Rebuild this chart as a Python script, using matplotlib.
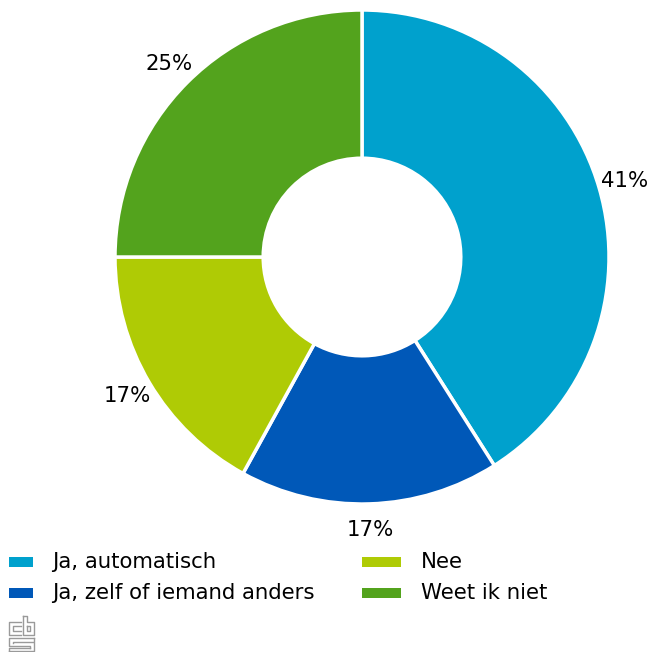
import matplotlib
matplotlib.use("Agg")
import matplotlib.pyplot as plt
from matplotlib.patches import Rectangle
from matplotlib.lines import Line2D

categories = ["Ja, automatisch", "Ja, zelf of iemand anders", "Nee", "Weet ik niet"]
values = [41, 17, 17, 25]
labels = ["41%", "17%", "17%", "25%"]
colors = ["#00A1CD", "#0058B8", "#AFCB05", "#53A31D"]

W, H = 650, 652
fig = plt.figure(figsize=(W / 100, H / 100), dpi=100)

def fx(x):
    return x / W

def fy(y):
    return 1 - y / H

# pie axes: center (362,257) px, radius 247 px
R = 247.0
lim = 1.2
side = 2 * lim * R
cx, cy = 362, 257
ax = fig.add_axes([fx(cx - side / 2), fy(cy + side / 2), side / W, side / H])
wedges, texts = ax.pie(values, labels=labels, colors=colors, startangle=90,
                       counterclock=False, labeldistance=1.105,
                       wedgeprops=dict(width=0.6, edgecolor="white", linewidth=2.5),
                       textprops=dict(fontsize=15.3, color="black"))
for t in texts:
    t.set_ha("center")
    t.set_va("center")
ax.set_xlim(-lim, lim)
ax.set_ylim(-lim, lim)
ax.set_aspect("equal")

# legend drawn manually
leg = [
    (9, 33, 562, 52),
    (9, 33, 593, 52),
    (362, 401, 562, 421),
    (362, 401, 593, 421),
]
for (x0, x1, yc, tx), cat, col in zip(leg, categories, colors):
    fig.add_artist(Rectangle((fx(x0), fy(yc + 5)), (x1 - x0) / W, 10 / H,
                             transform=fig.transFigure, facecolor=col,
                             edgecolor="none"))
    fig.text(fx(tx), fy(yc), cat, fontsize=15.3, va="center", ha="left", color="black")

# cbs logo (approximate)
grey = "#9a9a9a"
paths = [
    [(21, 622), (9, 622), (9, 635), (21, 635)],
    [(21, 626), (13, 626), (13, 631), (21, 631)],
    [(23, 616), (23, 635), (34, 635), (34, 622), (27, 622), (27, 616), (23, 616)],
    [(27, 626), (30, 626), (30, 631), (27, 631), (27, 626)],
    [(34, 638), (9, 638), (9, 646), (30, 646), (30, 648)],
    [(34, 638), (34, 642), (13, 642), (13, 643)],
    [(9, 651), (34, 651), (34, 643)],
    [(9, 651), (9, 648), (30, 648)],
]
for p in paths:
    xs = [fx(a) for a, b in p]
    ys = [fy(b) for a, b in p]
    fig.add_artist(Line2D(xs, ys, transform=fig.transFigure, color=grey, linewidth=1))

fig.savefig("out.png", dpi=100, facecolor="white")
